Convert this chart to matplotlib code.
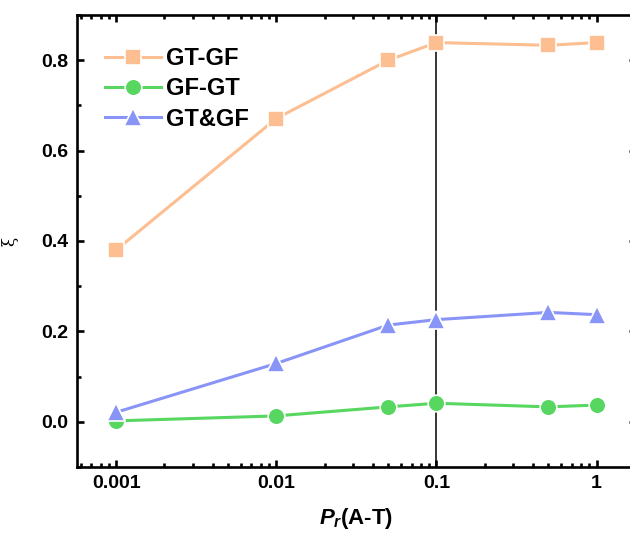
import matplotlib as mpl
mpl.use('Agg')
import matplotlib.pyplot as plt
from matplotlib.ticker import MultipleLocator, LogLocator, NullFormatter, FixedLocator, FixedFormatter

plt.rcParams['font.family'] = ['Liberation Sans', 'DejaVu Sans']
plt.rcParams['mathtext.fontset'] = 'custom'
plt.rcParams['mathtext.it'] = 'Liberation Sans:bold:italic'
plt.rcParams['mathtext.rm'] = 'Liberation Sans:bold'

# ratio values vs. P_r(A-T)
pr = [0.001, 0.01, 0.05, 0.1, 0.5, 1]
gt_gf = [0.380, 0.671, 0.800, 0.839, 0.833, 0.839]
gf_gt = [0.002, 0.013, 0.033, 0.041, 0.033, 0.037]
gt_and_gf = [0.021, 0.129, 0.214, 0.226, 0.242, 0.237]

xtick_vals = [0.001, 0.01, 0.1, 1]
xtick_labels = ['0.001', '0.01', '0.1', '1']

colors = ['#FDBE91', '#57D660', '#8994F7']

fig = plt.figure(figsize=(6.3, 5.34), dpi=100)
ax = fig.add_axes([0.1222, 0.1255, 0.8873, 0.8464])

ax.axvline(0.1, color='black', lw=1.1, zorder=1)

ax.plot(pr, gt_gf, color=colors[0], lw=2.2, marker='s', ms=11.5,
        mec='white', mew=1.2, mfc=colors[0], label='GT-GF', zorder=3)
ax.plot(pr, gf_gt, color=colors[1], lw=2.2, marker='o', ms=12,
        mec='white', mew=1.2, mfc=colors[1], label='GF-GT', zorder=3)
ax.plot(pr, gt_and_gf, color=colors[2], lw=2.2, marker='^', ms=12.5,
        mec='white', mew=1.2, mfc=colors[2], label='GT&GF', zorder=3)

ax.set_xscale('log')
ax.set_xlim(0.00057, 1.76)
ax.set_ylim(-0.1, 0.9)

ax.xaxis.set_major_locator(FixedLocator(xtick_vals))
ax.xaxis.set_major_formatter(FixedFormatter(xtick_labels))
ax.xaxis.set_minor_locator(LogLocator(base=10, subs=range(2, 10)))
ax.xaxis.set_minor_formatter(NullFormatter())
ax.yaxis.set_major_locator(MultipleLocator(0.2))
ax.yaxis.set_minor_locator(MultipleLocator(0.1))
ax.yaxis.set_major_formatter('{x:.1f}')

for side in ['left', 'bottom', 'right', 'top']:
    ax.spines[side].set_linewidth(1.9)

ax.tick_params(which='both', direction='in', top=True, right=True, width=1.9)
ax.tick_params(which='major', length=5, labelsize=14, pad=6)
ax.tick_params(which='minor', length=3)
for lbl in ax.get_xticklabels() + ax.get_yticklabels():
    lbl.set_fontweight('bold')

ax.set_xlabel(r'$P_r$(A-T)', fontsize=16, fontweight='bold', labelpad=10)
ax.set_ylabel('ξ', fontsize=12, family='DejaVu Serif', rotation=90)
ax.yaxis.set_label_coords(-0.105, 0.5)

leg = ax.legend(loc='upper left', bbox_to_anchor=(0.02, 0.965), frameon=False,
                prop={'size': 17, 'weight': 'bold'}, handlelength=2.4,
                handletextpad=0.2, labelspacing=0.3, borderaxespad=0.3)

fig.savefig('out.png', dpi=100)
